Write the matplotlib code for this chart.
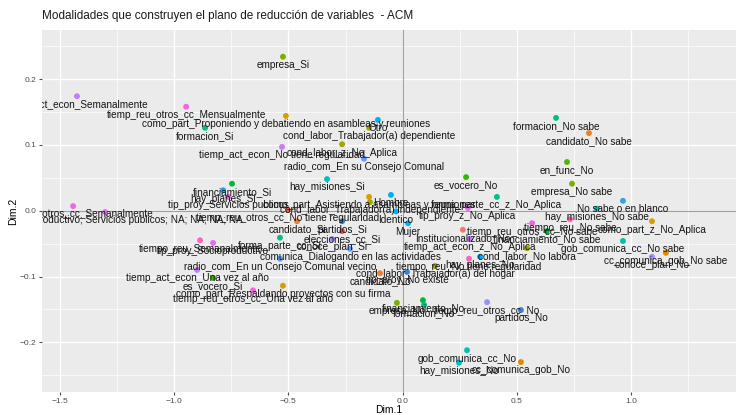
import matplotlib
matplotlib.use("Agg")
import matplotlib.pyplot as plt
from matplotlib.ticker import MultipleLocator

plt.rcParams['font.family'] = ['Liberation Sans', 'DejaVu Sans']

# Coordenadas de las modalidades (Dim.1, Dim.2)
etiquetas = [
    "empresa_Si", "tiemp_act_econ_Semanalmente", "tiemp_reu_otros_cc_Mensualmente",
    "como_part_Proponiendo y debatiendo en asambleas y reuniones", "formacion_Si", "Otro",
    "cond_labor_Trabajador(a) dependiente", "cond_labor_z_No_Aplica",
    "tiemp_act_econ_No tiene regularidad", "radio_com_En su Consejo Comunal", "hay_misiones_Si",
    "es_vocero_No", "formacion_No sabe", "candidato_No sabe", "en_func_No", "empresa_No sabe",
    "No sabe o en blanco", "hay_misiones_No sabe", "tiempo_reu_No sabe", "como_part_z_No_Aplica",
    "gob_comunica_cc_No sabe", "cc_comunica_gob_No sabe", "conoce_plan_No",
    "tiemp_reu_otros_cc_No sabe", "financiamiento_No sabe", "forma_parte_cc_z_No_Aplica",
    "tip_proy_z_No_Aplica", "cond_labor_No labora", "hay_planes_No",
    "tiempo_reu_No tiene regularidad", "tiemp_act_econ_z_No_Aplica", "Institucionalizado_No",
    "Mujer", "Identico", "Hombre", "como_part_Asistiendo a asambleas y reuniones",
    "cond_labor_Trabajador(a) independiente", "tiemp_reu_otros_cc_No tiene regularidad",
    "candidato_Si", "partidos_Si", "forma_parte_cc_Si", "elecciones_cc_Si", "conoce_plan_Si",
    "comunica_Dialogando en las actividades", "radio_com_En un Consejo Comunal vecino",
    "tiemp_act_econ_Una vez al año", "es_vocero_Si", "como_part_Respaldando proyectos con su firma",
    "tiemp_reu_otros_cc_Una vez al año", "candidato_No", "tip_proy_No existe",
    "cond_labor_Trabajador(a) del hogar", "empresa_No", "financiamiento_No", "formacion_No",
    "tiemp_reu_otros_cc_No", "partidos_No", "gob_comunica_cc_No", "hay_misiones_No",
    "cc_comunica_gob_No", "tiemp_reu_otros_cc_Semanalmente",
    "tip_proy_Socioproductivo; Servicios publicos; NA; NA; NA; NA", "financiamiento_Si",
    "hay_planes_Si", "tip_proy_Servicios publicos", "tiempo_reu_Semanalmente",
    "tip_proy_Socioproductivo",
]
dim1 = [
    -0.524, -1.426, -0.948, -0.511, -0.865, -0.108, -0.147, -0.265, -0.528, -0.169, -0.331,
    0.278, 0.672, 0.816, 0.720, 0.742, 0.965, 0.851, 0.733, 1.092, 0.965, 1.153, 1.092,
    0.567, 0.632, 0.413, 0.286, 0.545, 0.339, 0.291, 0.295, 0.264, 0.024, -0.029, -0.051,
    -0.147, -0.143, -0.502, -0.462, -0.265, -0.537, -0.265, -0.309, -0.230, -0.537,
    -0.900, -0.830, -0.524, -0.655, -0.099, 0.019, 0.142, -0.025, 0.089, 0.094, 0.370,
    0.518, 0.282, 0.247, 0.518, -1.443, -1.303, -0.747, -0.786, -0.764, -0.887, -0.830,
]
dim2 = [
    0.234, 0.174, 0.158, 0.144, 0.126, 0.138, 0.126, 0.101, 0.097, 0.079, 0.048,
    0.051, 0.141, 0.118, 0.074, 0.041, 0.015, 0.003, -0.013, -0.016, -0.046, -0.064, -0.070,
    -0.019, -0.031, 0.021, 0.004, -0.057, -0.070, -0.073, -0.043, -0.029, -0.019, -0.001, 0.024,
    0.021, 0.013, 0.001, -0.016, -0.016, -0.041, -0.031, -0.043, -0.058, -0.073,
    -0.090, -0.102, -0.114, -0.121, -0.095, -0.093, -0.084, -0.140, -0.136, -0.143, -0.139,
    -0.151, -0.212, -0.231, -0.230, 0.007, -0.002, 0.041, 0.031, 0.021, -0.045, -0.049,
]
variable = [
    "empresa", "tiemp_act_econ", "tiemp_reu_otros_cc", "como_part", "formacion", "sexo",
    "cond_labor", "cond_labor", "tiemp_act_econ", "radio_com", "hay_misiones",
    "es_vocero", "formacion", "candidato", "en_func", "empresa", "voto", "hay_misiones",
    "tiempo_reu", "como_part", "gob_comunica_cc", "cc_comunica_gob", "conoce_plan",
    "tiemp_reu_otros_cc", "financiamiento", "forma_parte_cc", "tip_proy", "cond_labor",
    "hay_planes", "tiempo_reu", "tiemp_act_econ", "nacionalidad", "sexo", "sexo", "sexo",
    "como_part", "cond_labor", "elecciones_cc", "candidato", "partidos", "forma_parte_cc",
    "elecciones_cc", "conoce_plan", "radio_com", "radio_com", "tiemp_act_econ", "es_vocero",
    "como_part", "tiemp_reu_otros_cc", "candidato", "partidos", "cond_labor", "empresa",
    "financiamiento", "formacion", "conoce_plan", "partidos", "gob_comunica_cc",
    "hay_misiones", "cc_comunica_gob", "tiemp_reu_otros_cc", "tip_proy", "financiamiento",
    "hay_planes", "tip_proy", "tiempo_reu", "tip_proy",
]

colores = {
    "empresa": "#7CAE00", "tiemp_act_econ": "#C77CFF", "tiemp_reu_otros_cc": "#F564E3",
    "tiempo_reu": "#FF62BC", "como_part": "#D89E00", "formacion": "#00BF7D",
    "sexo": "#00B0F6", "cond_labor": "#A3A500", "radio_com": "#619CFF",
    "hay_misiones": "#00BFC4", "es_vocero": "#39B600", "candidato": "#F07F2C",
    "en_func": "#53B400", "voto": "#35A2E8", "gob_comunica_cc": "#00C1AA",
    "cc_comunica_gob": "#E58700", "conoce_plan": "#9590FF", "financiamiento": "#00BA38",
    "forma_parte_cc": "#00C08B", "tip_proy": "#E76BF3", "hay_planes": "#00A9FF",
    "nacionalidad": "#F8766D", "elecciones_cc": "#E8604C", "partidos": "#3D7FD0",
}

fig = plt.figure(figsize=(7.36, 4.15), dpi=100)
ax = fig.add_axes([0.0571, 0.0554, 0.9429, 0.8723])
ax.set_facecolor("#EBEBEB")
for s in ax.spines.values():
    s.set_visible(False)

ax.set_xlim(-1.579, 1.46)
ax.set_ylim(-0.2755, 0.2746)
ax.xaxis.set_major_locator(MultipleLocator(0.5))
ax.xaxis.set_minor_locator(MultipleLocator(0.25))
ax.yaxis.set_major_locator(MultipleLocator(0.1))
ax.yaxis.set_minor_locator(MultipleLocator(0.05))
ax.grid(True, which="major", color="white", linewidth=1.0)
ax.grid(True, which="minor", color="white", linewidth=0.5)
ax.set_axisbelow(True)
ax.tick_params(which="major", length=2.5, color="#4D4D4D", labelsize=6, labelcolor="#4D4D4D", pad=1.5)
ax.tick_params(which="minor", length=0)

ax.axhline(0, color="#A0A0A0", linewidth=0.8, zorder=1)
ax.axvline(0, color="#A0A0A0", linewidth=0.8, zorder=1)

ax.scatter(dim1, dim2, s=18, c=[colores[v] for v in variable], zorder=2, linewidths=0)
for lab, x, y in zip(etiquetas, dim1, dim2):
    ax.annotate(lab, (x, y), xytext=(0, -6), textcoords="offset points",
                ha="center", va="center", fontsize=7.2, color="#141414",
                clip_on=True, zorder=3)

ax.set_xlabel("Dim.1", fontsize=7.5, labelpad=0.5)
ax.set_ylabel("Dim.2", fontsize=7.5, labelpad=1)
fig.text(0.0571, 0.962, "Modalidades que construyen el plano de reducción de variables  - ACM",
         fontsize=8.5, ha="left", va="center", color="#1A1A1A")

fig.savefig("out.png", dpi=100)
